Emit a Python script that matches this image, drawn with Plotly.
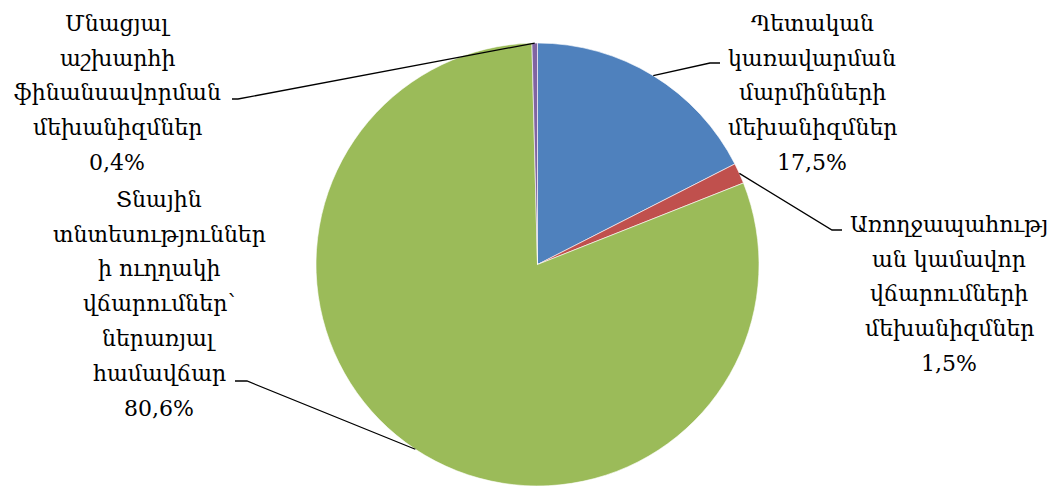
import math
import plotly.graph_objects as go

# Financing mechanisms: label lines, shares (%) and slice colours
categories = [
    ["Պետական", "կառավարման", "մարմինների", "մեխանիզմներ"],
    ["Առողջապահությ", "ան կամավոր", "վճարումների", "մեխանիզմներ"],
    ["Տնային", "տնտեսություններ", "ի ուղղակի", "վճարումներ՝", "ներառյալ", "համավճար"],
    ["Մնացյալ", "աշխարհի", "ֆինանսավորման", "մեխանիզմներ"],
]
shares = [17.5, 1.5, 80.6, 0.4]
colors = ["#4F81BD", "#C0504D", "#9BBB59", "#8064A2"]

# Canvas and pie geometry (pixels)
W, H = 1057, 487
CX, CY, R = 537.5, 264.5, 221.5

# Label blocks: centre x, first baseline y, and leader-line elbow / end points
label_x = [812, 949, 159, 117]
label_baseline = [31, 232, 207, 31]
elbows = [(710, 63), (832, 230), (247, 381), (238, 99)]
ends = [(720, 63), (842, 230), (235, 381), (232, 99)]
LINE_PITCH = 34.8
FONT = "DejaVu Serif"
FSIZE = 22


def px(x):
    return x / W


def py(y):
    return 1 - y / H


fig = go.Figure(
    go.Pie(
        values=shares,
        labels=[" ".join(c) for c in categories],
        sort=False,
        direction="clockwise",
        rotation=0,
        marker=dict(colors=colors, line=dict(color="white", width=0.6)),
        textinfo="none",
        hoverinfo="label+percent",
        showlegend=False,
        domain=dict(x=[px(CX - R), px(CX + R)], y=[py(CY + R), py(CY - R)]),
    )
)

total = sum(shares)
cum = 0.0
shapes = []
annotations = []
for i, (lines, v) in enumerate(zip(categories, shares)):
    mid = (cum + v / 2) / total * 2 * math.pi
    cum += v
    sx = CX + R * math.sin(mid)
    sy = CY - R * math.cos(mid)
    ex, ey = elbows[i]
    tx, ty = ends[i]
    shapes.append(dict(
        type="path", xref="paper", yref="paper",
        path=f"M {px(sx)},{py(sy)} L {px(ex)},{py(ey)} L {px(tx)},{py(ty)}",
        line=dict(color="black", width=1.3),
    ))
    text_lines = lines + [f"{v:.1f}".replace(".", ",") + "%"]
    for k, t in enumerate(text_lines):
        base = label_baseline[i] + k * LINE_PITCH
        annotations.append(dict(
            x=px(label_x[i]), y=py(base - 0.35 * FSIZE),
            xref="paper", yref="paper", xanchor="center", yanchor="middle",
            text=t, showarrow=False,
            font=dict(family=FONT, size=FSIZE, color="black"),
        ))

fig.update_layout(
    width=W, height=H,
    margin=dict(l=0, r=0, t=0, b=0),
    paper_bgcolor="white", plot_bgcolor="white",
    shapes=shapes, annotations=annotations,
)

fig.write_html("out.html")
